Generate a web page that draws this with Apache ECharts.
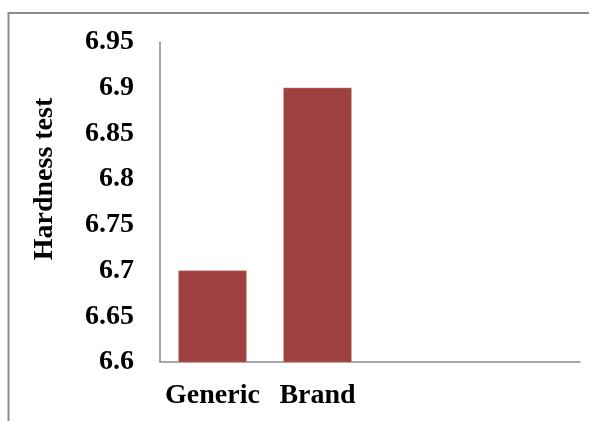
<!DOCTYPE html>
<html>
<head>
<meta charset="utf-8">
<script src="https://cdn.jsdelivr.net/npm/echarts@6/dist/echarts.min.js"></script>
<style>
  html, body { margin: 0; padding: 0; background: #fff; }
  #chart { width: 589px; height: 421px; }
</style>
</head>
<body>
<div id="chart"></div>
<script>
// data
var categories = ['Generic', 'Brand', '', ''];
var hardness = [6.7, 6.9, null, null];
var yTicks = { min: 6.6, max: 6.95, step: 0.05 };

var serif = "'Liberation Serif', 'Times New Roman', serif";
var chart = echarts.init(document.getElementById('chart'));

chart.setOption({
  backgroundColor: '#fff',
  animation: false,
  graphic: [
    {
      type: 'polyline',
      shape: { points: [[8.5, 421], [8.5, 13], [589, 13]] },
      style: { stroke: '#8c8c8c', lineWidth: 2, fill: null }
    }
  ],
  grid: { left: 160, right: 9, top: 42, bottom: 59 },
  xAxis: {
    type: 'category',
    data: categories,
    axisLine: { lineStyle: { color: '#8a8a8a', width: 1.5 } },
    axisTick: { show: false },
    axisLabel: {
      interval: 0,
      hideOverlap: false,
      margin: 20,
      color: '#000',
      fontFamily: serif,
      fontWeight: 'bold',
      fontSize: 28
    }
  },
  yAxis: {
    type: 'value',
    min: yTicks.min,
    max: yTicks.max,
    interval: yTicks.step,
    name: 'Hardness test',
    nameLocation: 'middle',
    nameGap: 101,
    nameRotate: 90,
    nameTextStyle: {
      color: '#000',
      fontFamily: serif,
      fontWeight: 'bold',
      fontSize: 28,
      padding: [0, 0, 0, 46]
    },
    axisLine: { show: true, lineStyle: { color: '#8a8a8a', width: 1.5 } },
    axisTick: { show: false },
    splitLine: { show: false },
    axisLabel: {
      margin: 26,
      color: '#000',
      fontFamily: serif,
      fontWeight: 'bold',
      fontSize: 28,
      formatter: function (v) { return String(+v.toFixed(2)); }
    }
  },
  series: [
    {
      type: 'bar',
      data: hardness,
      barCategoryGap: '35%',
      itemStyle: { color: '#9d403f', borderColor: '#c98a88', borderWidth: 0.5 }
    }
  ]
});
</script>
</body>
</html>
